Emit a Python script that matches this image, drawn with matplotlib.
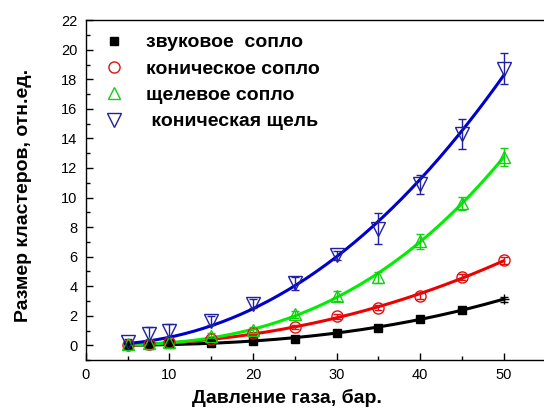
import numpy as np
import matplotlib.pyplot as plt
from matplotlib.ticker import MultipleLocator

plt.rcParams['font.family'] = ['Liberation Sans', 'DejaVu Sans']

p = [5, 7.5, 10, 15, 20, 25, 30, 35, 40, 45, 50]

zvuk = [0.0, 0.05, 0.1, 0.15, 0.3, 0.45, 0.85, 1.2, 1.8, 2.4, 3.1]
zvuk_err = [0.05, 0.05, 0.05, 0.05, 0.05, 0.05, 0.05, 0.08, 0.1, 0.1, 0.15]
konich = [0.05, 0.1, 0.2, 0.45, 0.8, 1.25, 1.95, 2.55, 3.35, 4.6, 5.75]
konich_err = [0.1, 0.1, 0.1, 0.1, 0.1, 0.15, 0.15, 0.15, 0.2, 0.2, 0.25]
schel = [0.1, 0.15, 0.25, 0.65, 1.05, 2.1, 3.35, 4.6, 7.05, 9.6, 12.75]
schel_err = [0.1, 0.1, 0.1, 0.15, 0.2, 0.25, 0.35, 0.35, 0.5, 0.45, 0.6]
kon_schel = [0.25, 0.75, 0.95, 1.65, 2.8, 4.2, 6.1, 7.9, 10.9, 14.3, 18.7]
kon_schel_err = [0.2, 0.5, 0.5, 0.3, 0.3, 0.45, 0.3, 1.05, 0.65, 1.0, 1.05]

labels = ['звуковое  сопло', 'коническое сопло', 'щелевое сопло', ' коническая щель']


def power_fit(x, y):
    # y = a * x**b, least squares over a grid of exponents
    x = np.asarray(x, float)
    y = np.asarray(y, float)
    best = None
    for b in np.linspace(1.0, 4.0, 301):
        xb = x ** b
        a = (xb @ y) / (xb @ xb)
        err = np.sum((a * xb - y) ** 2)
        if best is None or err < best[0]:
            best = (err, a, b)
    return best[1], best[2]


fig = plt.figure(figsize=(5.44, 4.12), dpi=100)
ax = fig.add_axes([0.158, 0.126, 0.86, 0.825])

series = [
    (zvuk, zvuk_err, 's', 'black', 'black', 'black', 6),
    (konich, konich_err, 'o', 'none', '#e01010', '#ee0000', 8),
    (schel, schel_err, '^', 'none', '#10d010', '#00ee00', 9),
    (kon_schel, kon_schel_err, 'v', 'none', '#2020a0', '#0000cc', 9.5),
]

xs = np.linspace(5, 50, 200)
for i, (y, e, m, fc, ec, lc, ms) in enumerate(series):
    a, b = power_fit(p, y)
    ax.plot(xs, a * xs ** b, color=lc, lw=2.2, zorder=2)
    ax.errorbar(p, y, yerr=e, fmt='none', ecolor=ec, elinewidth=1, capsize=3, zorder=3)
    if m == 's':
        ax.plot(p[:-1], y[:-1], ls='none', marker=m, ms=ms, mfc=fc, mec=ec, zorder=4, label=labels[i])
        ax.plot(p[-1:], y[-1:], ls='none', marker='+', ms=7, mec=ec, zorder=4)
    else:
        ax.plot(p, y, ls='none', marker=m, ms=ms, mfc=fc, mec=ec, mew=1, zorder=4, label=labels[i])

ax.set_xlim(0, 56)
ax.set_ylim(-1, 22)
ax.xaxis.set_major_locator(MultipleLocator(10))
ax.xaxis.set_minor_locator(MultipleLocator(5))
ax.yaxis.set_major_locator(MultipleLocator(2))
ax.yaxis.set_minor_locator(MultipleLocator(1))
ax.tick_params(which='both', direction='in', labelsize=10.5, pad=6, width=1)
ax.tick_params(which='major', length=5)
ax.tick_params(which='minor', length=3)
for s in ax.spines.values():
    s.set_linewidth(1)

ax.set_xlabel('Давление газа, бар.', fontsize=14, fontweight='bold')
ax.xaxis.set_label_coords(0.43, -0.085)
ax.set_ylabel('Размер кластеров, отн.ед.', fontsize=14, fontweight='bold')
ax.yaxis.set_label_coords(-0.115, 0.485)

leg = ax.legend(loc='upper left', frameon=False, prop={'size': 14, 'weight': 'bold'},
                handletextpad=0.9, labelspacing=0.45, borderaxespad=0.3, handlelength=1.5)

fig.savefig('out.png', dpi=100)
